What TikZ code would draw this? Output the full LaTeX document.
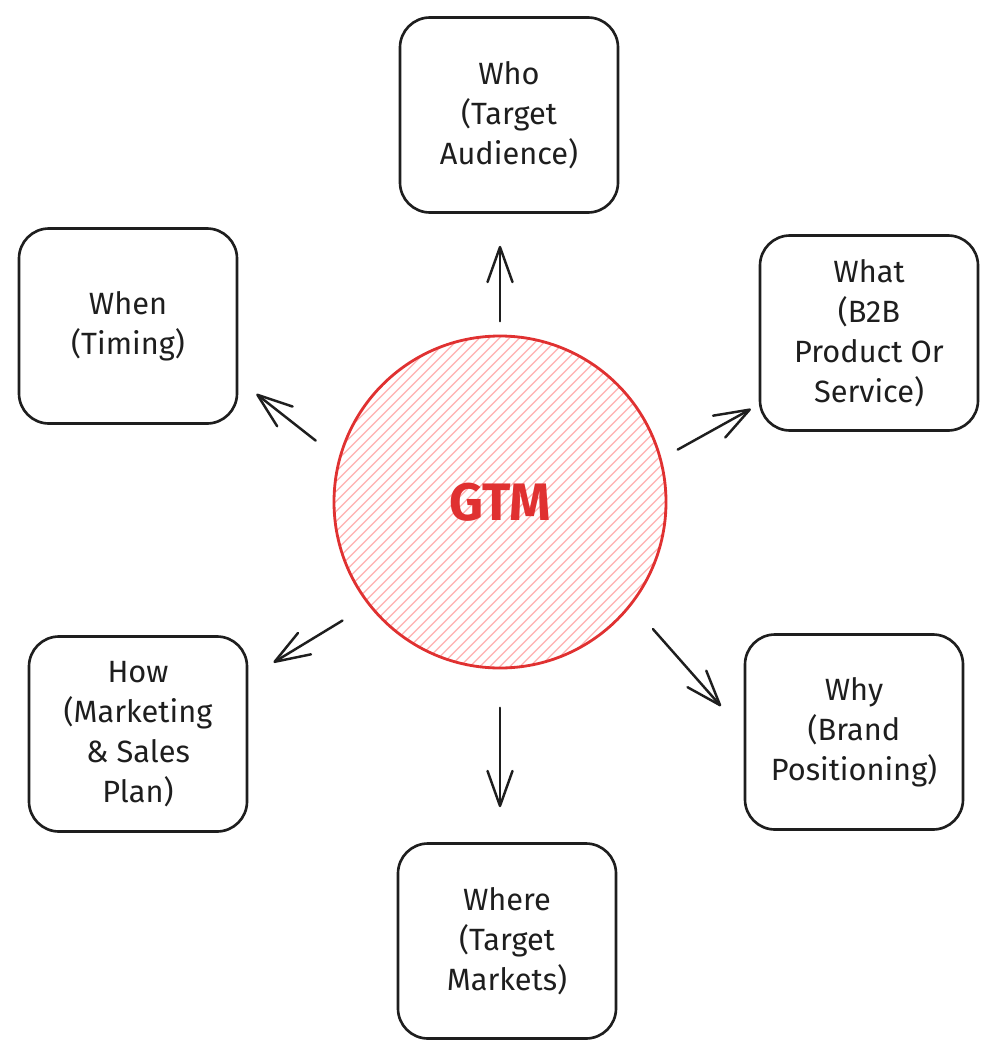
\documentclass[tikz,border=0pt]{standalone}
\usepackage{fontspec}
\setmainfont{Fira Sans}
\usetikzlibrary{arrows.meta, patterns.meta}
\definecolor{linecol}{HTML}{1E1E1E}
\definecolor{gtmcol}{HTML}{E03131}
\definecolor{hatchcol}{HTML}{FFB8B8}
\tikzset{
  card/.style = {draw=linecol, line width=1.5pt, rounded corners=6mm,
                 align=center, minimum width=43.6mm, minimum height=39mm,
                 inner sep=0pt, text=linecol,
                 font=\fontsize{17.5}{22.8}\selectfont},
  % the hub is hatched, not filled, like the sketch it comes from
  hub/.style  = {circle, draw=gtmcol, line width=1.6pt, minimum size=66.4mm,
                 inner sep=0pt, text=gtmcol,
                 pattern={Lines[angle=45, distance=4pt, line width=0.9pt]},
                 pattern color=hatchcol,
                 font=\fontsize{30}{34}\selectfont\bfseries},
  arr/.style  = {-{Straight Barb[length=7mm, width=5mm, round]},
                 draw=linecol, line width=1.4pt, line cap=round},
}
\begin{document}
\begin{tikzpicture}[x=0.2mm, y=-0.2mm]
  \useasboundingbox (0,0) rectangle (998,1058);

  %% ---------------- the hub ----------------
  \node[hub] (gtm) at (500,502) {GTM};

  %% ---------------- the six questions ----------------
  \node[card] (who)   at (509,115) {Who\\(Target\\Audience)};
  \node[card] (when)  at (128,326) {When\\(Timing)};
  \node[card] (what)  at (869,333) {What\\(B2B\\Product Or\\Service)};
  \node[card] (how)   at (138,734) {How\\(Marketing\\\& Sales\\Plan)};
  \node[card] (why)   at (854,732) {Why\\(Brand\\Positioning)};
  \node[card] (where) at (507,941) {Where\\(Target\\Markets)};

  %% ---------------- the arrows ----------------
  \draw[arr, shorten <=2.8mm, shorten >=6.4mm]
       (gtm.north) -- (gtm.north |- who.south);
  \draw[arr, shorten <=5.9mm, shorten >=4.6mm] (gtm.165) -- (when.-26);
  \draw[arr, shorten <=3.8mm, shorten >=1.8mm] (gtm.15)  -- (what.213);
  \draw[arr, shorten <=6.1mm, shorten >=5.9mm] (gtm.218) -- (how.27);
  \draw[arr, shorten <=6.5mm, shorten >=6.9mm] (gtm.-38) -- (why.west);
  \draw[arr, shorten <=7.8mm, shorten >=7mm]
       (gtm.south) -- (gtm.south |- where.north);

\end{tikzpicture}
\end{document}
